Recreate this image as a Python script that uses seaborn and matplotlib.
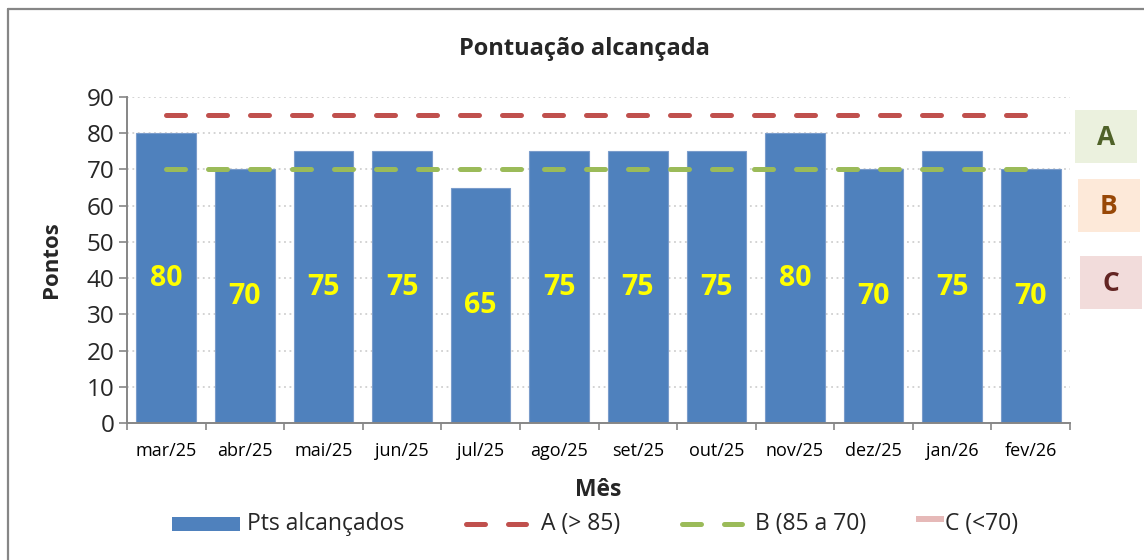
import numpy as np
import pandas as pd
import matplotlib
matplotlib.use("Agg")
import matplotlib.pyplot as plt
from matplotlib.lines import Line2D
from matplotlib.patches import Rectangle
import seaborn as sns

months = ["mar/25", "abr/25", "mai/25", "jun/25", "jul/25", "ago/25",
          "set/25", "out/25", "nov/25", "dez/25", "jan/26", "fev/26"]
pts = [80, 70, 75, 75, 65, 75, 75, 75, 80, 70, 75, 70]
line_a = [85] * 12
line_b = [70] * 12
yticks = [0, 10, 20, 30, 40, 50, 60, 70, 80, 90]
legend_labels = ["Pts alcançados", "A (> 85)", "B (85 a 70)", "C (<70)"]
grades = ["A", "B", "C"]

sns.set_theme(style="white")
plt.rcParams['font.family'] = ['Open Sans', 'DejaVu Sans']

W, H = 1144, 560
fig = plt.figure(figsize=(W / 100, H / 100), dpi=100)
ax = fig.add_axes([127 / W, 1 - 423 / H, (1070 - 127) / W, (423 - 97) / H])

def fx(px):
    return px / W

def fy(py):
    return 1 - py / H

BLUE, RED, GREEN, PINK = "#4F81BD", "#C0504D", "#9BBB59", "#E6B9B8"

df = pd.DataFrame({"Mês": months, "Pontos": pts})
sns.barplot(data=df, x="Mês", y="Pontos", color=BLUE, width=0.76,
            saturation=1, edgecolor="#7A9CCB", linewidth=0.8, ax=ax, zorder=2)

x = np.arange(len(months))
lw = 5 * 0.72
DASH = (3.8, 4.6)
sns.lineplot(x=x, y=line_a, ax=ax, color=RED, lw=lw, zorder=3)
sns.lineplot(x=x, y=line_b, ax=ax, color=GREEN, lw=lw, zorder=3)
for l in ax.get_lines():
    l.set_dashes(DASH)
    l.set_dash_capstyle("round")

for xi, v in zip(x, pts):
    ax.text(xi, v / 2, f"{v}", ha="center", va="center", color="#FFFF00",
            fontsize=20.5, fontweight="bold", zorder=4)

ax.set_xlim(-0.5, len(months) - 0.5)
ax.set_ylim(0, 90)
ax.set_yticks(yticks)
ax.set_yticklabels([str(t) for t in yticks], fontsize=17.5)
ax.set_xticks(x)
ax.set_xticklabels(months, fontsize=13)
ax.set_xticks(np.arange(-0.5, len(months)), minor=True)
ax.tick_params(axis="x", which="major", length=0, pad=14, colors="black")
ax.tick_params(axis="x", which="minor", length=5, width=1.2, color="#868686",
               direction="out", bottom=True)
ax.tick_params(axis="y", length=6, width=1.2, color="#868686", direction="out",
               left=True, pad=3)

for t in yticks:
    ax.axhline(t, color="#D0D0D0", lw=1.3, ls=(0, (1, 2)), zorder=0)

for s in ["top", "right"]:
    ax.spines[s].set_visible(False)
for s in ["left", "bottom"]:
    ax.spines[s].set_color("#868686")
    ax.spines[s].set_linewidth(1.4)

ax.set_xlabel("Mês", fontsize=16.5, fontweight="bold")
ax.set_ylabel("Pontos", fontsize=16, fontweight="bold")
ax.xaxis.set_label_coords(0.5, -(478 - 423) / (423 - 97))
ax.yaxis.set_label_coords(-(127 - 62) / (1070 - 127), 0.5)

fig.text(fx(584), fy(49), "Pontuação alcançada", ha="center", va="center",
         fontsize=17, fontweight="bold")

# A/B/C boxes
boxes = [(1075, 110, 1137, 163, "#EBF1DE", "#4F6228"),
         (1078, 179, 1140, 232, "#FDE9D9", "#984807"),
         (1080, 256, 1142, 309, "#F2DCDB", "#632523")]
for lab, (x0, y0, x1, y1, bg, fg) in zip(grades, boxes):
    fig.patches.append(Rectangle((fx(x0), fy(y1)), (x1 - x0) / W, (y1 - y0) / H,
                                 transform=fig.transFigure, facecolor=bg,
                                 edgecolor="none"))
    fig.text(fx((x0 + x1) / 2), fy((y0 + y1) / 2 + 1), lab, ha="center",
             va="center", fontsize=19, fontweight="bold", color=fg)

# outer frame
fig.add_artist(Line2D([fx(8), fx(8)], [fy(9), 0], transform=fig.transFigure,
                      color="#868686", lw=1.6))
fig.add_artist(Line2D([fx(8), 1], [fy(9), fy(9)], transform=fig.transFigure,
                      color="#868686", lw=1.6))

# legend (drawn manually to match positions)
ly = 524
fig.patches.append(Rectangle((fx(172), fy(531)), 68 / W, 14 / H,
                             transform=fig.transFigure, facecolor=BLUE,
                             edgecolor="none"))
for x0, col in [(466, RED), (682, GREEN)]:
    fig.add_artist(Line2D([fx(x0), fx(x0 + 60)], [fy(ly), fy(ly)],
                          transform=fig.transFigure, color=col, lw=lw,
                          dashes=DASH, dash_capstyle="round"))
fig.patches.append(Rectangle((fx(916), fy(522)), 28 / W, 6 / H,
                             transform=fig.transFigure, facecolor=PINK,
                             edgecolor="none"))
for tx, lab in zip([247, 541, 755, 945], legend_labels):
    fig.text(fx(tx), fy(ly), lab, ha="left", va="center", fontsize=16.5)

fig.savefig("out.png", dpi=100)
